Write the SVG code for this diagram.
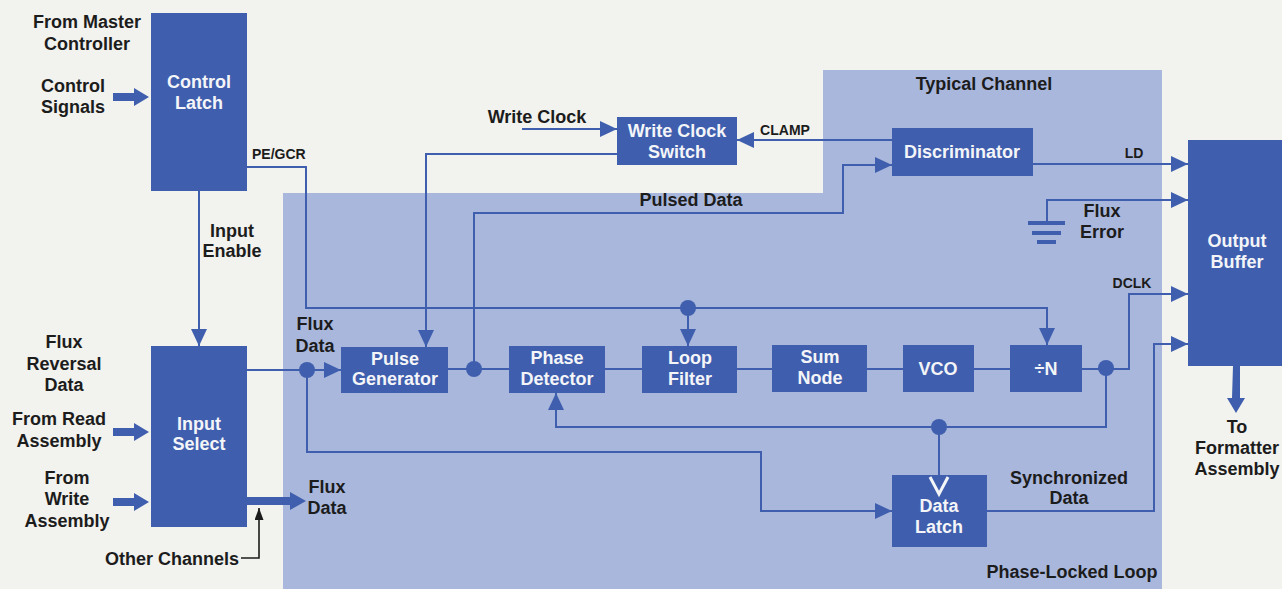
<svg xmlns="http://www.w3.org/2000/svg" width="1282" height="589" viewBox="0 0 1282 589">
<style>
text{font-family:"Liberation Sans",Arial,sans-serif;font-weight:bold;font-size:18px;text-anchor:middle;fill:#1c1c1c}
.w{fill:#f4f5f8}
.s{font-size:14px}
.box{fill:#3f5fae}
.ln{fill:none;stroke:#3f5fae;stroke-width:2}
.ar{marker-end:url(#ah)}
.dot{fill:#3f5fae}
.thick{fill:#3f5fae}
.gnd{stroke:#3f5fae;stroke-width:4}
.blk{fill:none;stroke:#1c1c1c;stroke-width:1.6}
</style>
<defs>
<marker id="ah" markerUnits="userSpaceOnUse" viewBox="0 0 17 16" markerWidth="17" markerHeight="16" refX="17" refY="8" orient="auto"><path d="M0,0 L17,8 L0,16 Z" fill="#3f5fae"/></marker>
<marker id="akb" markerUnits="userSpaceOnUse" viewBox="0 0 12 9" markerWidth="12" markerHeight="9" refX="12" refY="4.5" orient="auto"><path d="M0,0 L12,4.5 L0,9 Z" fill="#1c1c1c"/></marker>
</defs>
<rect width="1282" height="589" fill="#f2f2ee"/>
<path id="typical-channel-region" d="M283,193 H823 V70 H1162 V589 H283 Z" fill="#a9b7dc"/>
<g id="connectors">
<path class="ln ar" d="M199,191 V346"/>
<path class="ln ar" d="M247,167 H306 V308 H1047 V345"/>
<path class="ln ar" d="M688,308 V346"/>
<path class="ln ar" d="M247,370 H341"/>
<path class="ln ar" d="M617,154 H426 V347"/>
<path class="ln ar" d="M522,129 H617"/>
<path class="ln ar" d="M892,140 H737"/>
<path class="ln" d="M448,369 H509 M605,369 H642 M737,369 H772 M867,369 H903 M974,369 H1010 M1082,369 H1106"/>
<path class="ln ar" d="M474,369 V213 H843 V165 H892"/>
<path class="ln ar" d="M1033,164 H1188"/>
<path class="ln ar" d="M1047,223 V200 H1188"/>
<path class="ln ar" d="M1106,369 H1129 V294 H1188"/>
<path class="ln ar" d="M1106,369 V427 H556 V393"/>
<path class="ln" d="M939,427 V475"/>
<path class="ln ar" d="M307,370 V452 H761 V511 H892"/>
<path class="ln ar" d="M987,511 H1154 V344 H1188"/>
<path class="blk" d="M241,558 H259 V508" marker-end="url(#akb)"/>
<polygon class="thick" points="113,93 134,93 134,88 149,97 134,106 134,101 113,101"/>
<polygon class="thick" points="113,428 134,428 134,423 149,432 134,441 134,436 113,436"/>
<polygon class="thick" points="113,498 134,498 134,493 149,502 134,511 134,506 113,506"/>
<polygon class="thick" points="247,497 290,497 290,492 306,501 290,510 290,505 247,505"/>
<polygon class="thick" points="1233,366 1240,366 1240,398 1245,398 1236,413 1227,398 1232,398"/>
<circle class="dot" cx="307" cy="370" r="8"/>
<circle class="dot" cx="474" cy="369" r="8"/>
<circle class="dot" cx="688" cy="308" r="8"/>
<circle class="dot" cx="1106" cy="368" r="8"/>
<circle class="dot" cx="939" cy="427" r="8"/>
<line class="gnd" x1="1028" y1="223" x2="1065" y2="223"/>
<line class="gnd" x1="1032" y1="233" x2="1061" y2="233"/>
<line class="gnd" x1="1037" y1="242" x2="1056" y2="242"/>
</g>
<g id="control-latch"><rect class="box" x="151" y="13" width="96" height="178"/><text class="w" x="199" y="88">Control</text><text class="w" x="199" y="109">Latch</text></g>
<g id="input-select"><rect class="box" x="151" y="346" width="96" height="181"/><text class="w" x="199" y="430">Input</text><text class="w" x="199" y="450">Select</text></g>
<g id="write-clock-switch"><rect class="box" x="617" y="117" width="120" height="48"/><text class="w" x="677" y="137">Write Clock</text><text class="w" x="677" y="158">Switch</text></g>
<g id="discriminator"><rect class="box" x="892" y="128" width="141" height="48"/><text class="w" x="962" y="158">Discriminator</text></g>
<g id="output-buffer"><rect class="box" x="1188" y="140" width="100" height="226"/><text class="w" x="1237" y="247">Output</text><text class="w" x="1237" y="268">Buffer</text></g>
<g id="pulse-generator"><rect class="box" x="341" y="347" width="107" height="46"/><text class="w" x="395" y="365">Pulse</text><text class="w" x="395" y="385">Generator</text></g>
<g id="phase-detector"><rect class="box" x="509" y="346" width="96" height="47"/><text class="w" x="557" y="364">Phase</text><text class="w" x="557" y="385">Detector</text></g>
<g id="loop-filter"><rect class="box" x="642" y="346" width="95" height="47"/><text class="w" x="690" y="364">Loop</text><text class="w" x="690" y="385">Filter</text></g>
<g id="sum-node"><rect class="box" x="772" y="345" width="95" height="47"/><text class="w" x="820" y="363">Sum</text><text class="w" x="820" y="384">Node</text></g>
<g id="vco"><rect class="box" x="903" y="345" width="71" height="47"/><text class="w" x="938" y="375">VCO</text></g>
<g id="divide-n"><rect class="box" x="1010" y="345" width="72" height="47"/><text class="w" x="1046" y="375">÷N</text></g>
<g id="data-latch"><rect class="box" x="892" y="475" width="95" height="72"/><path d="M930,477 L939,494 L948,477" fill="none" stroke="#f4f5f8" stroke-width="3"/><text class="w" x="939" y="512">Data</text><text class="w" x="939" y="533">Latch</text></g>
<g id="labels">
<text x="87" y="28">From Master</text><text x="87" y="50">Controller</text>
<text x="73" y="92">Control</text><text x="73" y="113">Signals</text>
<text class="s" x="252" y="159" style="text-anchor:start">PE/GCR</text>
<text x="232" y="237">Input</text><text x="232" y="257">Enable</text>
<text x="64" y="348">Flux</text><text x="64" y="370">Reversal</text><text x="64" y="391">Data</text>
<text x="59" y="425">From Read</text><text x="59" y="447">Assembly</text>
<text x="67" y="484">From</text><text x="67" y="505">Write</text><text x="67" y="527">Assembly</text>
<text x="239" y="565" style="text-anchor:end">Other Channels</text>
<text x="315" y="330">Flux</text><text x="315" y="352">Data</text>
<text x="327" y="493">Flux</text><text x="327" y="514">Data</text>
<text x="537" y="123">Write Clock</text>
<text class="s" x="785" y="135">CLAMP</text>
<text x="691" y="206">Pulsed Data</text>
<text x="984" y="90">Typical Channel</text>
<text class="s" x="1134" y="158">LD</text>
<text x="1102" y="217">Flux</text><text x="1102" y="238">Error</text>
<text class="s" x="1132" y="288">DCLK</text>
<text x="1069" y="484">Synchronized</text><text x="1069" y="504">Data</text>
<text x="1072" y="578">Phase-Locked Loop</text>
<text x="1237" y="433">To</text><text x="1237" y="454">Formatter</text><text x="1237" y="475">Assembly</text>
</g>
</svg>
